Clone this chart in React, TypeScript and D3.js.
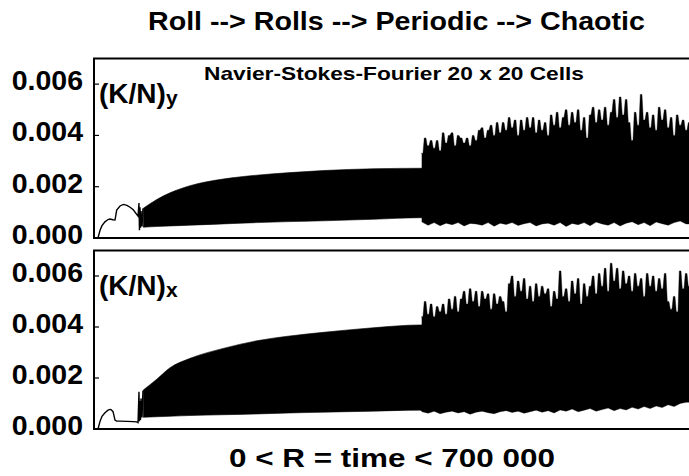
import React from "react";
import * as d3 from "d3";

// ---------- data (kinetic energies in units of 1e-3, time in R units) ----------
const TITLE = "Roll --> Rolls --> Periodic --> Chaotic";
const XLABEL = "0 < R = time < 700 000";
const SUBTITLE = "Navier-Stokes-Fourier 20 x 20 Cells";
const yTickValues = [0, 2, 4, 6];
const yTickLabels = ["0.000", "0.002", "0.004", "0.006"];

// early "roll" transient (thousands of time units)
const earlyTimesY = [4.7, 7.1, 9.4, 12.9, 16.5, 18.8, 22.4, 24.7, 26.7, 30.6, 34.5, 38.8, 42.4, 46.2, 50.2, 51.8, 52.9, 53.5, 54.1, 54.7, 55.3, 56.5, 57.6];
const earlyValuesY = [0, 0.3, 0.48, 0.63, 0.72, 0.74, 0.71, 0.7, 1.09, 1.25, 1.31, 1.27, 1.2, 1.1, 0.92, 0.85, 1.36, 0.3, 1.2, 0.4, 1.05, 0.45, 1.15];
const earlyTimesX = [4.7, 7.1, 9.4, 12.9, 16.5, 18.8, 20, 22.4, 24.7, 26.7, 30.6, 38.8, 46.2, 50.2, 51.8, 52.9, 53.5, 54.1, 54.7, 55.3, 56.5, 57.6];
const earlyValuesX = [0, 0.3, 0.5, 0.64, 0.74, 0.77, 0.76, 0.68, 0.35, 0.31, 0.31, 0.3, 0.29, 0.28, 0.25, 1.46, 0.3, 1.1, 0.35, 1.2, 0.45, 1.5];

// periodic band envelopes (thousands of time units)
const periodicTimes = [58, 73.8, 89.4, 113, 152, 191.4, 230.6, 269.8, 328.6, 383.5, 386];
const periodicUpperY = [1.16, 1.5, 1.76, 2.04, 2.3, 2.45, 2.55, 2.63, 2.7, 2.72, 2.72];
const periodicLowerY = [0.42, 0.45, 0.47, 0.5, 0.55, 0.6, 0.64, 0.67, 0.73, 0.79, 0.79];
const periodicUpperX = [1.53, 1.95, 2.4, 2.77, 3.16, 3.46, 3.65, 3.79, 3.97, 4.08, 4.08];
const periodicLowerX = [0.46, 0.48, 0.5, 0.53, 0.56, 0.59, 0.63, 0.66, 0.7, 0.74, 0.7];

// chaotic regime: peak values sampled every 3530 time units from 386 000
const chaoticStart = 386000;
const chaoticUpperStep = 3530;
const chaoticLowerStep = 7060;
const chaoticUpperY = [
  3.3, 3.9, 3.6, 3.8, 3.5, 3.8, 3.4, 4.1, 3.7, 4.0,
  4.1, 3.6, 4.0, 3.9, 3.7, 3.9, 3.6, 4.0, 3.8, 4.2,
  4.3, 3.9, 4.2, 4.4, 4.0, 4.5, 4.1, 4.5, 4.2, 4.7,
  4.3, 4.6, 4.0, 4.6, 4.2, 4.7, 4.3, 4.7, 4.1, 4.6,
  4.2, 4.5, 4.0, 4.8, 4.4, 4.9, 4.3, 4.7, 5.0, 4.4,
  4.9, 4.5, 5.0, 4.2, 4.7, 3.9, 4.8, 5.1, 4.5, 5.0,
  4.6, 5.1, 4.4, 4.9, 5.4, 4.7, 5.5, 4.8, 5.4, 4.5,
  3.8, 4.9, 4.4, 5.6, 4.6, 4.9, 4.3, 4.8, 4.2, 5.1,
  4.6, 5.0, 4.3, 4.7, 4.0, 4.8, 4.4, 4.6, 4.2, 4.5,
];
const chaoticLowerY = [
  0.62, 0.5, 0.6, 0.48, 0.58, 0.52, 0.6, 0.47, 0.57, 0.55,
  0.5, 0.6, 0.46, 0.58, 0.53, 0.6, 0.49, 0.56, 0.6, 0.47,
  0.55, 0.58, 0.5, 0.6, 0.45, 0.57, 0.52, 0.6, 0.48, 0.62,
  0.55, 0.5, 0.6, 0.47, 0.58, 0.63, 0.52, 0.6, 0.48, 0.62,
  0.56, 0.5, 0.6, 0.66, 0.55,
];
const chaoticUpperX = [
  4.4, 5.0, 4.5, 4.9, 4.4, 4.8, 4.6, 4.9, 4.5, 5.1,
  4.7, 5.2, 4.6, 5.1, 5.4, 4.9, 5.5, 5.0, 5.4, 4.8,
  5.4, 5.1, 5.3, 4.7, 5.3, 4.9, 5.2, 5.0, 4.6, 5.7,
  6.0, 5.2, 5.8, 5.4, 5.9, 5.1, 5.6, 5.0, 5.7, 5.2,
  5.6, 5.3, 5.5, 4.8, 5.4, 5.1, 6.2, 5.2, 5.5, 5.0,
  5.8, 5.3, 5.9, 4.9, 5.7, 5.2, 5.6, 6.0, 5.3, 6.1,
  5.6, 6.3, 5.4, 6.5, 5.8, 6.3, 5.5, 6.2, 5.7, 6.0,
  5.4, 6.1, 5.6, 5.9, 5.2, 6.1, 5.6, 6.0, 5.4, 5.9,
  5.5, 6.1, 5.0, 4.7, 5.2, 4.6, 6.2, 5.5, 6.1, 5.6,
];
const chaoticLowerX = [
  0.68, 0.62, 0.7, 0.6, 0.66, 0.7, 0.63, 0.68, 0.58, 0.66,
  0.7, 0.64, 0.6, 0.68, 0.72, 0.65, 0.7, 0.62, 0.68, 0.74,
  0.66, 0.72, 0.63, 0.75, 0.7, 0.78, 0.68, 0.74, 0.8, 0.7,
  0.76, 0.82, 0.72, 0.8, 0.75, 0.85, 0.78, 0.88, 0.8, 0.9,
  0.84, 0.95, 0.88, 1.0, 1.05,
];

const FONT = "'Liberation Sans', Arial, Helvetica, sans-serif";
const W = 689;
const H = 476;
const LEFT = 94;
const RIGHT = 689;

type PanelProps = {
  top: number;
  bottom: number;
  sub: string;
  earlyT: number[];
  earlyV: number[];
  perU: number[];
  perL: number[];
  chU: number[];
  chL: number[];
  showSubtitle: boolean;
  id: string;
};

function Panel(p: PanelProps) {
  const x = d3.scaleLinear().domain([0, 700000]).range([LEFT, RIGHT]);
  const y = d3.scaleLinear().domain([0, 7]).range([p.bottom, p.top]);
  const line = d3.line<[number, number]>().x((d) => x(d[0])).y((d) => y(d[1]));

  const earlyPts: [number, number][] = p.earlyT.map((t, i) => [t * 1000, p.earlyV[i]]);
  const perArea = d3
    .area<number>()
    .x((_, i) => x(periodicTimes[i] * 1000))
    .y0((_, i) => y(p.perL[i]))
    .y1((d) => y(d))
    .curve(d3.curveMonotoneX);

  // each chaotic peak is drawn as a narrow flat-topped needle
  const half = chaoticUpperStep * 0.28;
  const topPts: [number, number][] = [];
  p.chU.forEach((v, i) => {
    const t = chaoticStart + i * chaoticUpperStep;
    topPts.push([t - half, v], [t + half, v]);
  });
  const lowPts: [number, number][] = p.chL
    .map((v, i) => [chaoticStart + i * chaoticLowerStep, v] as [number, number])
    .reverse();
  const poly: [number, number][] = [
    [chaoticStart - 200, p.chU[0]],
    ...topPts,
    [712000, p.chU[p.chU.length - 1]],
    [712000, p.chL[p.chL.length - 1]],
    ...lowPts,
    [chaoticStart - 200, p.chL[0]],
  ];

  return (
    <g>
      <defs>
        <clipPath id={p.id}>
          <rect x={LEFT} y={p.top} width={RIGHT - LEFT + 2} height={p.bottom - p.top} />
        </clipPath>
      </defs>
      <g clipPath={`url(#${p.id})`}>
        <path d={perArea(p.perU) || ""} fill="#000" stroke="#000" strokeWidth={0.6} />
        <path d={(line(poly) || "") + "Z"} fill="#000" stroke="#000" strokeWidth={0.4} />
        <path d={line(earlyPts) || ""} fill="none" stroke="#000" strokeWidth={1.4} />
      </g>
      {yTickValues.map((v, i) => (
        <g key={v}>
          {v > 0 && <line x1={LEFT} x2={LEFT + 5} y1={y(v)} y2={y(v)} stroke="#000" strokeWidth={1.2} />}
          <text
            x={83}
            y={y(v) + 6}
            textAnchor="end"
            fontFamily={FONT}
            fontWeight="bold"
            fontSize={28.5}
            fill="#000"
          >
            {yTickLabels[i]}
          </text>
        </g>
      ))}
      <rect x={LEFT} y={p.top} width={RIGHT - LEFT + 4} height={p.bottom - p.top} fill="none" stroke="#000" strokeWidth={2} />
      <text x={99} y={p.top + 44} fontFamily={FONT} fontWeight="bold" fontSize={28} fill="#000">
        (K/N)
        <tspan fontSize={21} dy={2}>{p.sub}</tspan>
      </text>
      {p.showSubtitle && (
        <text
          x={204}
          y={p.top + 21.5}
          fontFamily={FONT}
          fontWeight="bold"
          fontSize={19}
          textLength={380}
          lengthAdjust="spacingAndGlyphs"
          fill="#000"
        >
          {SUBTITLE}
        </text>
      )}
    </g>
  );
}

export default function App() {
  return (
    <svg
      width={W}
      height={H}
      viewBox={`0 0 ${W} ${H}`}
      style={{ position: "absolute", left: 0, top: 0, background: "#fff" }}
    >
      <rect x={0} y={0} width={W} height={H} fill="#fff" />
      <text
        x={148}
        y={30}
        fontFamily={FONT}
        fontWeight="bold"
        fontSize={25}
        textLength={497}
        lengthAdjust="spacingAndGlyphs"
        fill="#000"
      >
        {TITLE}
      </text>
      <Panel
        id="clipTop"
        top={58.5}
        bottom={238}
        sub="y"
        earlyT={earlyTimesY}
        earlyV={earlyValuesY}
        perU={periodicUpperY}
        perL={periodicLowerY}
        chU={chaoticUpperY}
        chL={chaoticLowerY}
        showSubtitle={true}
      />
      <Panel
        id="clipBottom"
        top={250.5}
        bottom={429}
        sub="x"
        earlyT={earlyTimesX}
        earlyV={earlyValuesX}
        perU={periodicUpperX}
        perL={periodicLowerX}
        chU={chaoticUpperX}
        chL={chaoticLowerX}
        showSubtitle={false}
      />
      <text
        x={229}
        y={467}
        fontFamily={FONT}
        fontWeight="bold"
        fontSize={26}
        textLength={326}
        lengthAdjust="spacingAndGlyphs"
        fill="#000"
      >
        {XLABEL}
      </text>
    </svg>
  );
}
